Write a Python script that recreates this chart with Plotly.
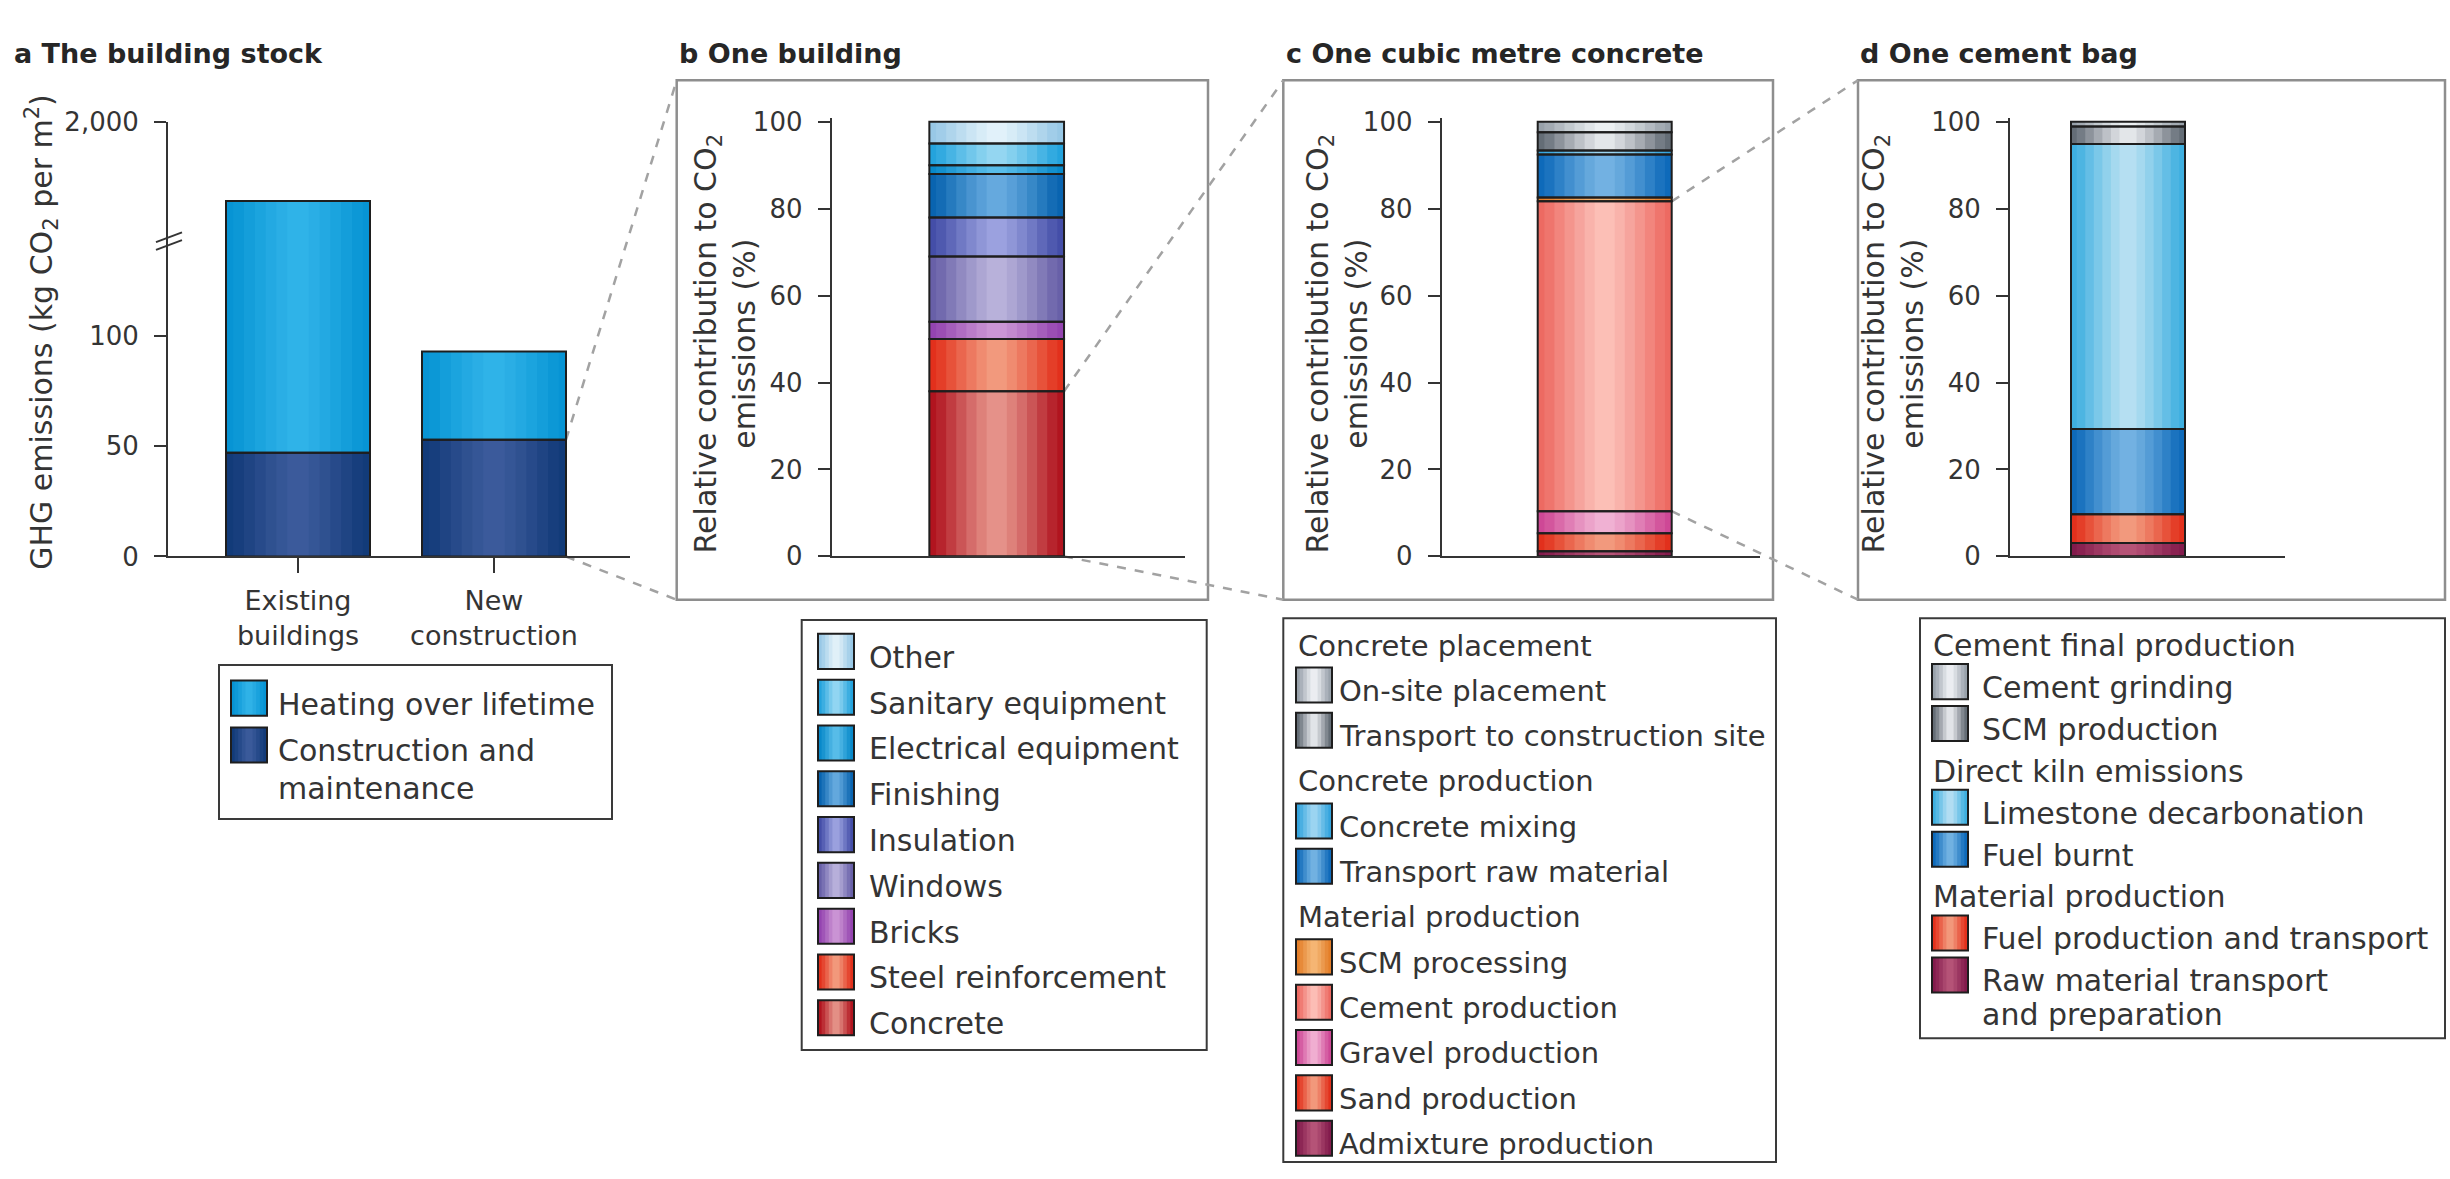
import numpy as np
import plotly.graph_objects as go

# ---------------------------------------------------------------- data
# a: building stock, kg CO2 per m2 (stacked: construction at the bottom)
stock_categories = ["Existing buildings", "New construction"]
construction_and_maintenance = [47, 53]
heating_over_lifetime = [1290, 40]
stock_series = ["Construction and maintenance", "Heating over lifetime"]
stock_low_ticks = [0, 50, 100]
stock_high_ticks = [2000]

# b: one building, share of CO2 emissions (%), bottom to top
building_components = ["Concrete", "Steel reinforcement", "Bricks", "Windows",
                       "Insulation", "Finishing", "Electrical equipment",
                       "Sanitary equipment", "Other"]
building_share = [38, 12, 4, 15, 9, 10, 2, 5, 5]

# c: one cubic metre of concrete (%), bottom to top
concrete_steps = ["Admixture production", "Sand production", "Gravel production",
                  "Cement production", "SCM processing", "Transport raw material",
                  "Concrete mixing", "Transport to construction site",
                  "On-site placement"]
concrete_groups = (["Material production"] * 5 + ["Concrete production"] * 2
                   + ["Concrete placement"] * 2)
concrete_share = [1.2, 4.1, 5.1, 71.3, 0.9, 9.9, 0.9, 4.2, 2.4]

# d: one cement bag (%), bottom to top
cement_steps = ["Raw material transport and preparation", "Fuel production and transport",
                "Fuel burnt", "Limestone decarbonation", "SCM production", "Cement grinding"]
cement_groups = (["Material production"] * 2 + ["Direct kiln emissions"] * 2
                 + ["Cement final production"] * 2)
cement_share = [3.1, 6.6, 19.6, 65.6, 4.0, 1.1]

share_ticks = [0, 20, 40, 60, 80, 100]

panel_titles = {"a": "The building stock", "b": "One building",
                "c": "One cubic metre concrete", "d": "One cement bag"}
stock_axis_title = "GHG emissions (kg CO<sub>2</sub> per m<sup>2</sup>)"
share_axis_title = "Relative contribution to CO<sub>2</sub><br>emissions (%)"

# ---------------------------------------------------------------- style
FONT = "DejaVu Sans"
INK = "#343434"
EDGE_INK = "#1e1e1e"
FRAME = "#8e8e8e"
DASH = "#a2a2a2"

# (edge colour, centre highlight colour) of every stacked segment
STOCK_COLORS = {
    "Construction and maintenance": ("#123b79", "#3f5e9e"),
    "Heating over lifetime": ("#0794d4", "#34b5ea"),
}
BUILDING_COLORS = {
    "Concrete": ("#b1141f", "#e99d92"),
    "Steel reinforcement": ("#e2301c", "#f4a386"),
    "Bricks": ("#9444b0", "#d09cd8"),
    "Windows": ("#6860a8", "#c0b9df"),
    "Insulation": ("#444ea8", "#a3a9e4"),
    "Finishing": ("#0964b0", "#6eb0e2"),
    "Electrical equipment": ("#0889ca", "#60c2ec"),
    "Sanitary equipment": ("#24a3dd", "#9edbf4"),
    "Other": ("#98c8e6", "#e8f5fb"),
}
CONCRETE_COLORS = {
    "Admixture production": ("#831b4c", "#bb5a7c"),
    "Sand production": ("#e2301c", "#f4a386"),
    "Gravel production": ("#ce4896", "#f4bad8"),
    "Cement production": ("#ed6a62", "#fdc6be"),
    "SCM processing": ("#e47e28", "#f7bc7c"),
    "Transport raw material": ("#0e6aba", "#7cb8e6"),
    "Concrete mixing": ("#34a4de", "#a6daf3"),
    "Transport to construction site": ("#646d76", "#eef1f4"),
    "On-site placement": ("#98a1aa", "#f4f6f9"),
}
CEMENT_COLORS = {
    "Raw material transport and preparation": ("#831b4c", "#bb5a7c"),
    "Fuel production and transport": ("#e2301c", "#f4a386"),
    "Fuel burnt": ("#0e6aba", "#7cb8e6"),
    "Limestone decarbonation": ("#3eafe0", "#bfe3f4"),
    "SCM production": ("#646d76", "#eef1f4"),
    "Cement grinding": ("#98a1aa", "#f4f6f9"),
}

# horizontal sheen of the bars: nested strips, each blending toward the highlight
GLOW_WIDTHS = [0.9, 0.75, 0.6, 0.45, 0.3, 0.15]
GLOW_LEVELS = [0.12, 0.3, 0.48, 0.65, 0.8, 0.92]
SWATCH_WIDTHS = [0.8, 0.6, 0.4, 0.2]
SWATCH_LEVELS = [0.2, 0.45, 0.7, 0.9]

LABEL_LINES = {
    "Construction and maintenance": ["Construction and", "maintenance"],
    "Raw material transport and preparation": ["Raw material transport", "and preparation"],
}

# ---------------------------------------------------------------- geometry (pixels)
W, H = 2450, 1179


def px(x):
    return x / W


def py(y):
    return 1 - y / H


# panel a
A_AXIS_LEFT, A_AXIS_RIGHT = 168, 630
A_CENTERS = (298, 494)
A_BAR_PX = 144
A_ZERO, A_HUNDRED = 555.6, 329.4
A_BREAK, A_TOP = 232, 110
A_HIGH_RANGE = [1000, 2000]

# panels b-d
SHARE_ZERO, SHARE_HUNDRED = 555.5, 109.6
SHARE_TOP_VALUE = 100.8
BAR_UNITS = 0.6
PANELS = {
    "b": dict(axis_left=831.7, axis_right=1185, bar_center=996.7, bar_px=134.7,
              frame=(676.7, 67, 1208, 600), title_x=677, ytitle_x=725),
    "c": dict(axis_left=1441.7, axis_right=1760, bar_center=1604.7, bar_px=134,
              frame=(1283.3, 67, 1773, 600), title_x=1284, ytitle_x=1337),
    "d": dict(axis_left=2010, axis_right=2285, bar_center=2128, bar_px=114,
              frame=(1858, 67, 2445, 600), title_x=1858, ytitle_x=1893),
}
TITLE_Y = 39.5
TEXT_DROP = 6  # legend labels sit slightly below their swatch centre


def hex_rgba(color, alpha):
    h = color.lstrip("#")
    r, g, b = int(h[0:2], 16), int(h[2:4], 16), int(h[4:6], 16)
    return f"rgba({r},{g},{b},{alpha:.3f})"


def blend_alphas(levels):
    out, prev = [], 0.0
    for t in levels:
        out.append(1 - (1 - t) / (1 - prev))
        prev = t
    return out


GLOW_ALPHAS = blend_alphas(GLOW_LEVELS)
SWATCH_ALPHAS = blend_alphas(SWATCH_LEVELS)

fig = go.Figure()


def add_stack(xs, bases, values, names, palette, width, xa, ya):
    """Stacked bar segments with a centre sheen and dark segment outlines."""
    for x, b, v, n in zip(xs, bases, values, names):
        fig.add_trace(go.Bar(
            x=[x], y=[v], base=[b], width=width, name=n,
            marker=dict(color=palette[n][0], line=dict(width=0)),
            xaxis=xa, yaxis=ya, showlegend=False, hovertemplate=n + ": %{y}<extra></extra>"))
    centres = [palette[n][1] for n in names]
    for wf, a in zip(GLOW_WIDTHS, GLOW_ALPHAS):
        fig.add_trace(go.Bar(
            x=list(xs), y=list(values), base=list(bases), width=width * wf,
            marker=dict(color=[hex_rgba(c, a) for c in centres], line=dict(width=0)),
            xaxis=xa, yaxis=ya, showlegend=False, hoverinfo="skip"))
    fig.add_trace(go.Bar(
        x=list(xs), y=list(values), base=list(bases), width=width,
        marker=dict(color="rgba(0,0,0,0)", line=dict(color=EDGE_INK, width=2)),
        xaxis=xa, yaxis=ya, showlegend=False, hoverinfo="skip"))


# ---------------------------------------------------------------- panel a
stock = np.vstack([construction_and_maintenance, heating_over_lifetime])
stock_bases = np.vstack([np.zeros(stock.shape[1]), np.cumsum(stock, axis=0)[:-1]])
a_xs = stock_categories * len(stock_series)
a_vals = stock.ravel().tolist()
a_bases = stock_bases.ravel().tolist()
a_names = [s for s in stock_series for _ in stock_categories]

a_unit = A_CENTERS[1] - A_CENTERS[0]
a_xrange = [-(A_CENTERS[0] - A_AXIS_LEFT) / a_unit,
            len(stock_categories) - 1 + (A_AXIS_RIGHT - A_CENTERS[1]) / a_unit]
a_width = A_BAR_PX / a_unit
a_scale = (A_ZERO - A_HUNDRED) / 100.0
a_low_range = [0, (A_ZERO - A_BREAK) / a_scale]

add_stack(a_xs, a_bases, a_vals, a_names, STOCK_COLORS, a_width, "x", "y")
add_stack(a_xs, a_bases, a_vals, a_names, STOCK_COLORS, a_width, "x2", "y2")

# ---------------------------------------------------------------- panels b-d
share_scale = (SHARE_ZERO - SHARE_HUNDRED) / 100.0
share_domain = [py(SHARE_ZERO), py(SHARE_ZERO - SHARE_TOP_VALUE * share_scale)]

panel_data = {
    "b": ("One building", building_components, building_share, BUILDING_COLORS),
    "c": ("One cubic metre concrete", concrete_steps, concrete_share, CONCRETE_COLORS),
    "d": ("One cement bag", cement_steps, cement_share, CEMENT_COLORS),
}
axis_ids = {"b": "3", "c": "4", "d": "5"}

for key, (cat, names, share, palette) in panel_data.items():
    vals = np.asarray(share, dtype=float)
    bases = np.cumsum(vals) - vals
    i = axis_ids[key]
    add_stack([cat] * len(names), bases.tolist(), vals.tolist(), names, palette,
              BAR_UNITS, "x" + i, "y" + i)

# ---------------------------------------------------------------- axes
tick_font = dict(family=FONT, size=26, color=INK)
common = dict(showline=True, linecolor=INK, linewidth=2, showgrid=False, zeroline=False,
              tickcolor=INK, tickwidth=2, tickfont=tick_font, fixedrange=True)

layout_axes = dict(
    xaxis=dict(common, domain=[px(A_AXIS_LEFT), px(A_AXIS_RIGHT)], type="category",
               range=a_xrange, anchor="y", ticks="outside", ticklen=15,
               tickvals=stock_categories,
               ticktext=[c.replace(" ", "<br>") for c in stock_categories],
               tickfont=dict(family=FONT, size=27, color=INK), ticklabelstandoff=4),
    yaxis=dict(common, domain=[py(A_ZERO), py(A_BREAK)], range=a_low_range, anchor="x",
               ticks="outside", ticklen=12, tickvals=stock_low_ticks, ticklabelstandoff=10),
    xaxis2=dict(domain=[px(A_AXIS_LEFT), px(A_AXIS_RIGHT)], type="category",
                range=a_xrange, anchor="y2", visible=False, fixedrange=True),
    yaxis2=dict(common, domain=[py(A_BREAK), py(A_TOP)], range=A_HIGH_RANGE, anchor="x2",
                ticks="outside", ticklen=12, tickvals=stock_high_ticks, tickformat=",",
                ticklabelstandoff=10),
)

bar_right_px = {}
for key, g in PANELS.items():
    i = axis_ids[key]
    unit = g["bar_px"] / BAR_UNITS
    xr = [-(g["bar_center"] - g["axis_left"]) / unit, (g["axis_right"] - g["bar_center"]) / unit]
    bar_right_px[key] = g["bar_center"] + g["bar_px"] / 2
    layout_axes["xaxis" + i] = dict(common, domain=[px(g["axis_left"]), px(g["axis_right"])],
                                    type="category", range=xr, anchor="y" + i,
                                    ticks="", showticklabels=False)
    layout_axes["yaxis" + i] = dict(common, domain=share_domain, range=[0, SHARE_TOP_VALUE],
                                    anchor="x" + i, ticks="outside", ticklen=12,
                                    tickvals=share_ticks, ticklabelstandoff=10)

fig.update_layout(**layout_axes)

# ---------------------------------------------------------------- decorations
shapes, annotations = [], []


def rect(x0, y0, x1, y1, **kw):
    shapes.append(dict(type="rect", xref="paper", yref="paper",
                       x0=px(x0), x1=px(x1), y0=py(y1), y1=py(y0), **kw))


def seg(x0, y0, x1, y1, **kw):
    shapes.append(dict(type="line", xref="paper", yref="paper",
                       x0=px(x0), x1=px(x1), y0=py(y0), y1=py(y1), **kw))


def text(x, y, s, size=30, anchor="left", bold=False, angle=0):
    annotations.append(dict(
        xref="paper", yref="paper", x=px(x), y=py(y), text=f"<b>{s}</b>" if bold else s,
        showarrow=False, xanchor=anchor, yanchor="middle", textangle=angle,
        font=dict(family=FONT, size=size, color="#262626" if bold else INK)))


def swatch(x0, y0, x1, y1, colors):
    edge, centre = colors
    rect(x0, y0, x1, y1, fillcolor=edge, line=dict(width=0))
    w = x1 - x0
    for wf, a in zip(SWATCH_WIDTHS, SWATCH_ALPHAS):
        m = (x0 + x1) / 2
        rect(m - w * wf / 2, y0, m + w * wf / 2, y1, fillcolor=hex_rgba(centre, a),
             line=dict(width=0))
    rect(x0, y0, x1, y1, line=dict(color=EDGE_INK, width=2))


def legend(box, entries, swatch_x, text_x, header_x, row0, pitch, line_pitch,
           size=36, font_size=30):
    rect(*box, line=dict(color="#3a3a3a", width=2))
    y = row0
    for kind, label, colors in entries:
        lines = LABEL_LINES.get(label, [label])
        if kind == "header":
            text(header_x, y + TEXT_DROP, label, size=font_size)
        else:
            swatch(swatch_x, y - size / 2, swatch_x + size, y + size / 2, colors)
            for k, line in enumerate(lines):
                text(text_x, y + TEXT_DROP + k * line_pitch, line, size=font_size)
        y += pitch + (len(lines) - 1) * line_pitch


def grouped_entries(names, groups, palette):
    out, last = [], None
    for n, g in zip(reversed(names), reversed(groups)):
        if g != last:
            out.append(("header", g, None))
            last = g
        out.append(("item", n, palette[n]))
    return out


# panel titles and axis titles
text(12, TITLE_Y, "a " + panel_titles["a"], size=27, bold=True)
for key, g in PANELS.items():
    text(g["title_x"], TITLE_Y, key + " " + panel_titles[key], size=27, bold=True)
    text(g["ytitle_x"], 338, share_axis_title, size=30, anchor="center", angle=-90)
text(42, 325, stock_axis_title, size=30, anchor="center", angle=-90)

# broken-axis marks on panel a
for dy in (-4, 4):
    seg(A_AXIS_LEFT - 12, A_BREAK + dy + 5, A_AXIS_LEFT + 14, A_BREAK + dy - 5,
        line=dict(color=INK, width=2))

# frames around the zoomed panels
for g in PANELS.values():
    rect(*g["frame"], line=dict(color=FRAME, width=2.5), layer="below")


# dashed connectors from a segment to the next panel's frame
def a_px(v):
    return A_ZERO - v * a_scale


def share_px(v):
    return SHARE_ZERO - v * share_scale


dash = dict(color=DASH, width=2.5, dash="dash")
a_right = A_CENTERS[1] + A_BAR_PX / 2
fb, fc, fd = PANELS["b"]["frame"], PANELS["c"]["frame"], PANELS["d"]["frame"]
seg(a_right, a_px(construction_and_maintenance[1]), fb[0], fb[1], line=dash, layer="below")
seg(a_right, a_px(0), fb[0], fb[3], line=dash, layer="below")
seg(bar_right_px["b"], share_px(building_share[0]), fc[0], fc[1], line=dash, layer="below")
seg(bar_right_px["b"], share_px(0), fc[0], fc[3], line=dash, layer="below")
cement_idx = concrete_steps.index("Cement production")
c_tops = np.cumsum(concrete_share)
seg(bar_right_px["c"], share_px(c_tops[cement_idx]), fd[0], fd[1], line=dash, layer="below")
seg(bar_right_px["c"], share_px(c_tops[cement_idx - 1]), fd[0], fd[3], line=dash, layer="below")

# legends
legend((219, 667, 612, 825),
       [("item", s, STOCK_COLORS[s]) for s in reversed(stock_series)],
       swatch_x=231, text_x=276, header_x=231, row0=701, pitch=48, line_pitch=39)
legend((801.7, 620.7, 1206.7, 1062),
       [("item", n, BUILDING_COLORS[n]) for n in reversed(building_components)],
       swatch_x=818, text_x=867, header_x=818, row0=653, pitch=47, line_pitch=38)
legend((1283.3, 619, 1776, 1177),
       grouped_entries(concrete_steps, concrete_groups, CONCRETE_COLORS),
       swatch_x=1296, text_x=1337, header_x=1296, row0=641, pitch=46.5, line_pitch=38,
       font_size=29)
legend((1920, 619, 2445, 1050),
       grouped_entries(cement_steps, cement_groups, CEMENT_COLORS),
       swatch_x=1932, text_x=1980, header_x=1931, row0=641, pitch=43, line_pitch=35)

fig.update_layout(
    width=W, height=H, margin=dict(l=0, r=0, t=0, b=0),
    paper_bgcolor="white", plot_bgcolor="rgba(0,0,0,0)",
    barmode="overlay", showlegend=False,
    font=dict(family=FONT, color=INK),
    shapes=shapes, annotations=annotations,
)

fig.write_html("out.html", config={"displayModeBar": False})
